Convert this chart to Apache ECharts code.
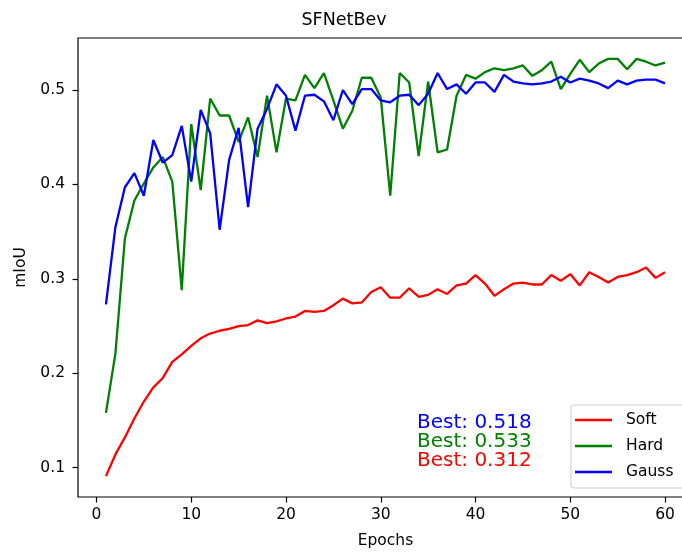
<!DOCTYPE html>
<html>
<head>
<meta charset="utf-8">
<script src="https://cdn.jsdelivr.net/npm/echarts@6/dist/echarts.min.js"></script>
<style>html,body{margin:0;padding:0;background:#fff}#c{width:682px;height:553px}</style>
</head>
<body>
<div id="c"></div>
<script>
const epochs = Array.from({length: 60}, (_, i) => i + 1);
const xTicks = [0, 10, 20, 30, 40, 50, 60];
const yTicks = [0.1, 0.2, 0.3, 0.4, 0.5];
const seriesNames = ['Soft', 'Hard', 'Gauss'];
const soft = [0.091, 0.114, 0.132, 0.152, 0.170, 0.185, 0.195, 0.212, 0.220, 0.229,
  0.237, 0.242, 0.245, 0.247, 0.250, 0.251, 0.256, 0.253, 0.255, 0.258,
  0.260, 0.266, 0.265, 0.266, 0.272, 0.279, 0.274, 0.275, 0.286, 0.291,
  0.280, 0.280, 0.290, 0.281, 0.283, 0.289, 0.284, 0.293, 0.295, 0.304,
  0.295, 0.282, 0.289, 0.295, 0.296, 0.294, 0.294, 0.304, 0.298, 0.305,
  0.293, 0.307, 0.302, 0.296, 0.302, 0.304, 0.307, 0.312, 0.301, 0.307];
const hard = [0.158, 0.221, 0.343, 0.383, 0.401, 0.418, 0.429, 0.403, 0.288, 0.464,
  0.394, 0.491, 0.473, 0.473, 0.445, 0.471, 0.429, 0.494, 0.434, 0.491,
  0.489, 0.516, 0.502, 0.518, 0.489, 0.459, 0.478, 0.513, 0.513, 0.492,
  0.388, 0.518, 0.508, 0.430, 0.509, 0.434, 0.437, 0.494, 0.516, 0.512,
  0.519, 0.523, 0.521, 0.523, 0.526, 0.515, 0.521, 0.530, 0.501, 0.517,
  0.532, 0.519, 0.528, 0.533, 0.533, 0.522, 0.533, 0.530, 0.526, 0.529];
const gauss = [0.273, 0.355, 0.397, 0.412, 0.388, 0.447, 0.423, 0.431, 0.462, 0.403,
  0.479, 0.454, 0.352, 0.426, 0.460, 0.376, 0.459, 0.480, 0.506, 0.494,
  0.457, 0.494, 0.495, 0.488, 0.468, 0.500, 0.485, 0.501, 0.501, 0.489,
  0.487, 0.494, 0.495, 0.484, 0.496, 0.518, 0.501, 0.506, 0.496, 0.508,
  0.508, 0.498, 0.516, 0.509, 0.507, 0.506, 0.507, 0.509, 0.514, 0.508,
  0.512, 0.510, 0.507, 0.502, 0.510, 0.506, 0.510, 0.511, 0.511, 0.507];
const colors = ['#ff0000', '#008000', '#0000ff'];

const FONT = '"DejaVu Sans", sans-serif';
const pairs = arr => arr.map((v, i) => [epochs[i], v]);
const best = arr => 'Best: ' + Math.max(...arr).toFixed(3);

const chart = echarts.init(document.getElementById('c'), null, {renderer: 'canvas'});
chart.setOption({
  animation: false,
  backgroundColor: '#fff',
  grid: {left: 78, top: 38, width: 615, height: 459, containLabel: false, outerBoundsMode: 'none',
    show: true, borderColor: '#000', borderWidth: 1.2, backgroundColor: 'transparent'},
  xAxis: {
    type: 'value', min: -1.95, max: 62.95,
    name: 'Epochs', nameLocation: 'middle', nameGap: 36,
    nameTextStyle: {fontFamily: FONT, fontSize: 15.5, color: '#000'},
    axisLine: {show: false, onZero: false},
    axisTick: {show: true, customValues: xTicks, length: 5.5, lineStyle: {color: '#000', width: 1.2}},
    axisLabel: {customValues: xTicks, fontFamily: FONT, fontSize: 15.5, color: '#000', margin: 10},
    splitLine: {show: false}
  },
  yAxis: {
    type: 'value', min: 0.0689, max: 0.5551,
    name: 'mIoU', nameLocation: 'middle', nameGap: 48, nameRotate: 90,
    nameTextStyle: {fontFamily: FONT, fontSize: 15.5, color: '#000'},
    axisLine: {show: false, onZero: false},
    axisTick: {show: true, customValues: yTicks, length: 5.5, lineStyle: {color: '#000', width: 1.2}},
    axisLabel: {customValues: yTicks, fontFamily: FONT, fontSize: 15.5, color: '#000', margin: 13,
      formatter: v => v.toFixed(1)},
    splitLine: {show: false}
  },
  legend: {
    orient: 'vertical', left: 571, top: 405,
    data: seriesNames,
    icon: 'rect', itemWidth: 37, itemHeight: 2.3, itemGap: 8,
    padding: [6, 12, 7, 4],
    backgroundColor: 'rgba(255,255,255,0.8)', borderColor: '#cccccc', borderWidth: 1, borderRadius: 3,
    textStyle: {fontFamily: FONT, fontSize: 15.5, color: '#000', lineHeight: 18, padding: [0, 0, 0, 9]}
  },
  series: [
    {name: seriesNames[0], type: 'line', data: pairs(soft), symbol: 'none', lineStyle: {color: colors[0], width: 2.3}, itemStyle: {color: colors[0]}, z: 2},
    {name: seriesNames[1], type: 'line', data: pairs(hard), symbol: 'none', lineStyle: {color: colors[1], width: 2.3}, itemStyle: {color: colors[1]}, z: 3},
    {name: seriesNames[2], type: 'line', data: pairs(gauss), symbol: 'none', lineStyle: {color: colors[2], width: 2.3}, itemStyle: {color: colors[2]}, z: 4}
  ],
  graphic: [
    {type: 'text', x: 344, y: 20, style: {text: 'SFNetBev', fill: '#000', font: '17.5px ' + FONT, align: 'center', verticalAlign: 'middle'}},
    {type: 'text', x: 417, y: 423, style: {text: best(gauss), fill: colors[2], font: '20px ' + FONT, align: 'left', verticalAlign: 'middle'}},
    {type: 'text', x: 417, y: 442, style: {text: best(hard), fill: colors[1], font: '20px ' + FONT, align: 'left', verticalAlign: 'middle'}},
    {type: 'text', x: 417, y: 461, style: {text: best(soft), fill: colors[0], font: '20px ' + FONT, align: 'left', verticalAlign: 'middle'}}
  ]
});
</script>
</body>
</html>
